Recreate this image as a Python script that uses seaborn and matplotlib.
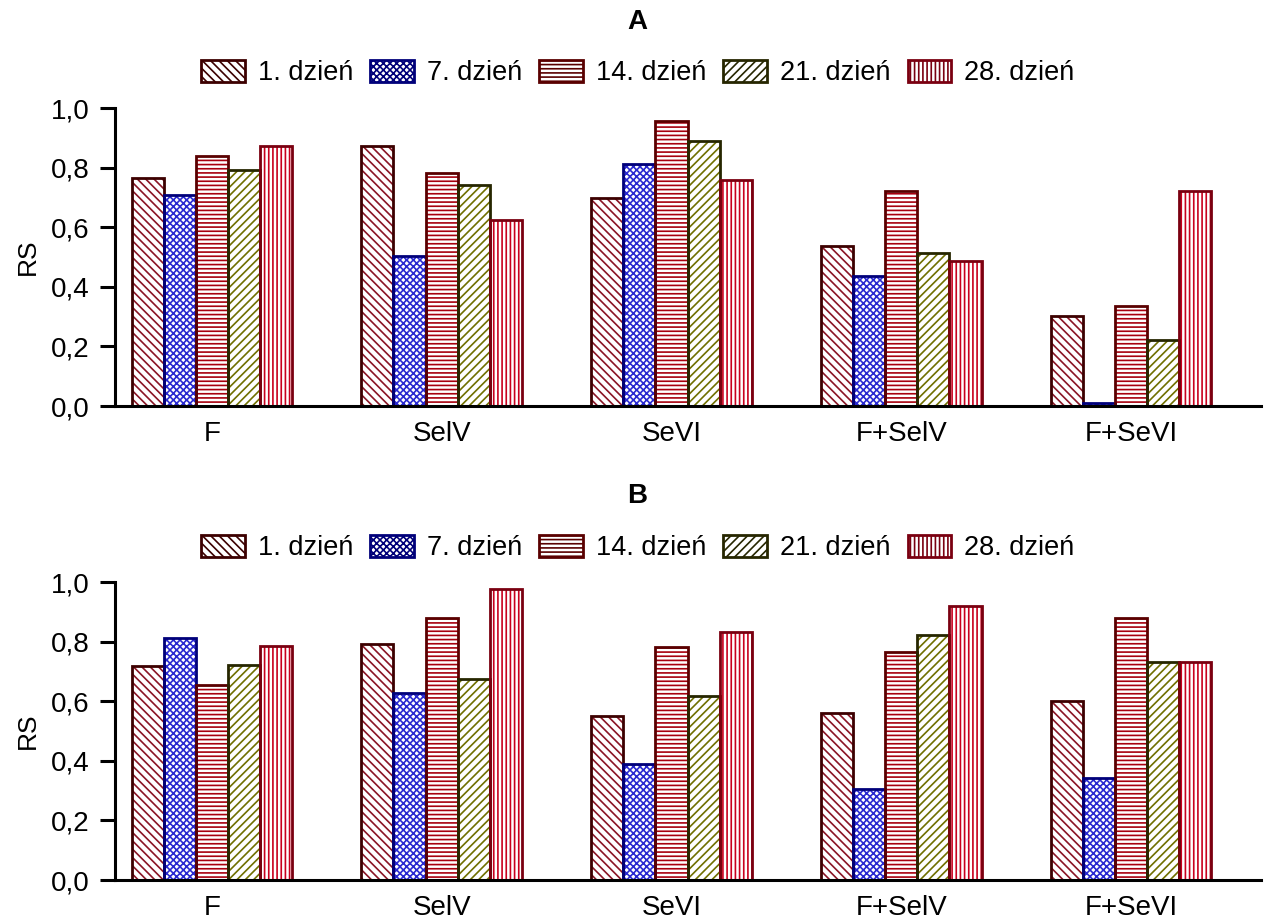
import numpy as np
import pandas as pd
import matplotlib
matplotlib.use("Agg")
import matplotlib.pyplot as plt
from matplotlib.patches import Rectangle
import seaborn as sns

# values
groups = ['F', 'SelV', 'SeVI', 'F+SelV', 'F+SeVI']
days = ['1. dzień', '7. dzień', '14. dzień', '21. dzień', '28. dzień']

# panel A, one list per day (order follows groups)
a_day1 = [0.765, 0.873, 0.698, 0.537, 0.303]
a_day7 = [0.709, 0.503, 0.812, 0.437, 0.010]
a_day14 = [0.840, 0.782, 0.957, 0.722, 0.336]
a_day21 = [0.793, 0.742, 0.890, 0.514, 0.221]
a_day28 = [0.873, 0.624, 0.759, 0.488, 0.722]

# panel B
b_day1 = [0.718, 0.792, 0.551, 0.559, 0.600]
b_day7 = [0.812, 0.629, 0.389, 0.307, 0.342]
b_day14 = [0.653, 0.880, 0.782, 0.766, 0.880]
b_day21 = [0.720, 0.674, 0.617, 0.821, 0.730]
b_day28 = [0.785, 0.976, 0.832, 0.920, 0.730]

y_ticks = [0.0, 0.2, 0.4, 0.6, 0.8, 1.0]
y_ticklabels = ['0,0', '0,2', '0,4', '0,6', '0,8', '1,0']

# styling per day
hatches = ['\\\\\\\\', 'xxxxx', '----', '////', '||||']
hatch_colors = ['#8a1525', '#2a2ad0', '#a8000f', '#707000', '#c8001e']
edge_colors = ['#3c0000', '#00007a', '#5a0000', '#262600', '#7a0010']


def long_df(series):
    rows = []
    for day, vals in zip(days, series):
        for g, v in zip(groups, vals):
            rows.append({'grupa': g, 'dzien': day, 'RS': v})
    return pd.DataFrame(rows)


df_a = long_df([a_day1, a_day7, a_day14, a_day21, a_day28])
df_b = long_df([b_day1, b_day7, b_day14, b_day21, b_day28])

sns.set_style("white")
plt.rcParams['font.family'] = ['Liberation Sans', 'DejaVu Sans']
plt.rcParams['hatch.linewidth'] = 1.2
plt.rcParams['text.color'] = 'black'
plt.rcParams['axes.labelcolor'] = 'black'
plt.rcParams['xtick.color'] = 'black'
plt.rcParams['ytick.color'] = 'black'

fig = plt.figure(figsize=(12.68, 9.23), dpi=100)
W, H = 1268, 923
ax_a = fig.add_axes([115 / W, 1 - 406 / H, (1261 - 115) / W, 298 / H])
ax_b = fig.add_axes([115 / W, 1 - 880 / H, (1261 - 115) / W, 298 / H])


def draw_panel(ax, df, title, title_y, legend_y):
    sns.barplot(data=df, x='grupa', y='RS', hue='dzien', order=groups,
                hue_order=days, palette=['white'] * 5, width=0.70, gap=0,
                errorbar=None, ax=ax)
    for i, cont in enumerate(ax.containers):
        for bar in cont:
            bar.set_facecolor('white')
            bar.set_hatch(hatches[i])
            bar.set_edgecolor(hatch_colors[i])
            bar.set_linewidth(0)
            ax.add_patch(Rectangle((bar.get_x(), bar.get_y()), bar.get_width(),
                                   bar.get_height(), fill=False,
                                   edgecolor=edge_colors[i], linewidth=2.0,
                                   zorder=bar.get_zorder() + 0.1))
    ax.set_xlim(-0.422, 4.566)
    ax.set_ylim(0, 1.0)
    ax.set_yticks(y_ticks)
    ax.set_yticklabels(y_ticklabels)
    ax.set_xlabel('')
    ax.set_ylabel('RS', fontsize=19, labelpad=8)
    ax.tick_params(axis='y', direction='out', length=11, width=2.2,
                   labelsize=20, pad=7, left=True)
    ax.tick_params(axis='x', length=0, labelsize=20, pad=11)
    sns.despine(ax=ax)
    for side in ['left', 'bottom']:
        ax.spines[side].set_linewidth(2.2)
        ax.spines[side].set_color('black')

    # legend with hatched rectangle handles
    leg_handles = [Rectangle((0, 0), 1, 1, facecolor='white', hatch=hatches[i],
                             edgecolor=edge_colors[i], linewidth=2.0)
                   for i in range(len(days))]
    if ax.get_legend() is not None:
        ax.get_legend().remove()
    fig.legend(leg_handles, days, loc='center', ncol=5, frameon=False,
               bbox_to_anchor=(638 / W, 1 - legend_y / H), fontsize=19.5,
               handlelength=1.6, handleheight=0.85, handletextpad=0.5,
               columnspacing=0.62, borderaxespad=0)
    fig.text(637 / W, 1 - title_y / H, title, ha='center', va='center',
             fontsize=20, fontweight='bold')


draw_panel(ax_a, df_a, 'A', 22, 73)
draw_panel(ax_b, df_b, 'B', 496, 548)

fig.savefig('out.png', dpi=100)
